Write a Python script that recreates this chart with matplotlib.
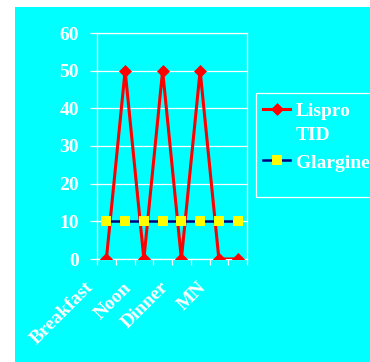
import numpy as np
import matplotlib
matplotlib.use("Agg")
import matplotlib.pyplot as plt
from matplotlib.patches import Rectangle
from matplotlib.lines import Line2D

# insulin doses over the day (8 time slots)
slots = np.arange(8)
lispro = [0, 50, 0, 50, 0, 50, 0, 0]
glargine = [10, 10, 10, 10, 10, 10, 10, 10]
meal_labels = ["Breakfast", "", "Noon", "", "Dinner", "", "MN", "", ""]

cyan = "#00FFFF"
navy = "#000080"
plt.rcParams["font.family"] = "Liberation Serif"
plt.rcParams["font.weight"] = "bold"

W, H = 370, 362
fig = plt.figure(figsize=(W / 100, H / 100), dpi=100, facecolor="white")
fig.patches.append(Rectangle((15 / W, 0), 355 / W, 355 / H,
                             transform=fig.transFigure, facecolor=cyan,
                             edgecolor="none", zorder=-10))

ax = fig.add_axes([97 / W, 1 - 259 / H, 150 / W, 226 / H])
ax.set_facecolor(cyan)

ax.plot(slots, lispro, color="red", lw=2.2, marker="D", ms=5.8, mew=0.5,
        mfc="red", mec="red", zorder=3)
ax.plot(slots, glargine, color=navy, lw=1.8, marker="s", ms=7.2, mew=0,
        mfc="yellow", zorder=4)

ax.set_xlim(-0.5, 7.5)
ax.set_ylim(0, 60)
ax.set_yticks(range(0, 61, 10))
ax.set_xticks(np.arange(-0.5, 8, 1))
ax.set_xticklabels(meal_labels, rotation=45, ha="right", va="top")
ax.grid(axis="y", color="white", lw=0.9)
for s in ax.spines.values():
    s.set_color("white")
    s.set_linewidth(0.9)
ax.tick_params(axis="y", colors="white", length=5, width=0.9, pad=8,
               labelsize=14, labelcolor="white")
ax.tick_params(axis="x", colors="white", length=4.3, width=0.9, pad=10,
               labelsize=14, labelcolor="white")
ax.set_axisbelow(True)

# legend box drawn by hand so the Lispro key sits on the first text line
fig.patches.append(Rectangle((256 / W, 1 - 197 / H), 120 / W, 104 / H,
                             transform=fig.transFigure, facecolor="none",
                             edgecolor="white", lw=0.9))


def fy(y):
    return 1 - y / H


fig.add_artist(Line2D([263 / W, 290 / W], [fy(109), fy(109)], color="red",
                      lw=2.2))
fig.add_artist(Line2D([276.5 / W], [fy(109)], color="red", marker="D",
                      ms=5.8, mew=0.5))
fig.add_artist(Line2D([263 / W, 290 / W], [fy(160), fy(160)], color=navy,
                      lw=1.8))
fig.add_artist(Line2D([276.5 / W], [fy(160)], color="yellow", marker="s",
                      ms=7.2, mew=0))
leg_font = dict(color="white", fontsize=14, fontweight="bold",
                va="baseline", ha="left")
fig.text(296 / W, fy(116.5), "Lispro", **leg_font)
fig.text(296 / W, fy(139.5), "TID", **leg_font)
fig.text(296 / W, fy(168.5), "Glargine", **leg_font)

fig.savefig("out.png", dpi=100, facecolor="white")
